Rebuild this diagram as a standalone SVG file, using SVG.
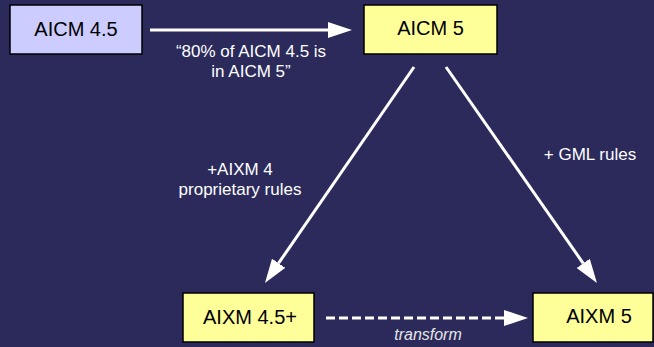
<svg xmlns="http://www.w3.org/2000/svg" width="654" height="347" viewBox="0 0 654 347">
  <style>
    .box { stroke: #000; stroke-width: 1.5; }
    .purple { fill: #ccccff; }
    .yellow { fill: #ffff99; }
    .btxt { font-family: "Liberation Sans", Arial, sans-serif; font-size: 20px; fill: #000; text-anchor: middle; }
    .lbl { font-family: "Liberation Sans", Arial, sans-serif; font-size: 17px; fill: #fff; text-anchor: middle; }
    .ital { font-family: "Liberation Sans", Arial, sans-serif; font-size: 16px; font-style: italic; fill: #e6e6e6; text-anchor: middle; }
    .conn { stroke: #fff; stroke-width: 3; fill: none; marker-end: url(#head); }
    .dash { stroke-dasharray: 9 4; }
  </style>
  <defs>
    <marker id="head" markerUnits="userSpaceOnUse" markerWidth="24" markerHeight="16" refX="0" refY="8" orient="auto" viewBox="0 0 24 16">
      <path d="M0,0 L24,8 L0,16 z" fill="#fff"/>
    </marker>
  </defs>
  <rect width="654" height="347" fill="#2b2a5b"/>

  <g id="connectors">
    <line class="conn" x1="150" y1="30" x2="328" y2="30"/>
    <line class="conn" x1="414" y1="67" x2="278.6" y2="263.2"/>
    <line class="conn" x1="446" y1="67" x2="583.2" y2="263.3"/>
    <line class="conn dash" x1="326" y1="318" x2="504" y2="318"/>
  </g>

  <g id="labels">
    <text class="lbl" x="251" y="57">“80% of AICM 4.5 is</text>
    <text class="lbl" x="251" y="77">in AICM 5”</text>
    <text class="lbl" x="240" y="175">+AIXM 4</text>
    <text class="lbl" x="240" y="195">proprietary rules</text>
    <text class="lbl" x="590" y="160">+ GML rules</text>
    <text class="ital" x="428" y="340">transform</text>
  </g>

  <g id="aicm45">
    <rect class="box purple" x="10" y="5" width="132" height="49"/>
    <text class="btxt" x="76" y="36">AICM 4.5</text>
  </g>
  <g id="aicm5">
    <rect class="box yellow" x="364" y="5" width="133" height="49"/>
    <text class="btxt" x="430.5" y="35">AICM 5</text>
  </g>
  <g id="aixm45plus">
    <rect class="box yellow" x="183" y="293" width="131" height="49"/>
    <text class="btxt" x="250" y="324">AIXM 4.5+</text>
  </g>
  <g id="aixm5">
    <rect class="box yellow" x="533" y="293" width="120" height="49"/>
    <text class="btxt" x="599" y="323">AIXM 5</text>
  </g>
</svg>
